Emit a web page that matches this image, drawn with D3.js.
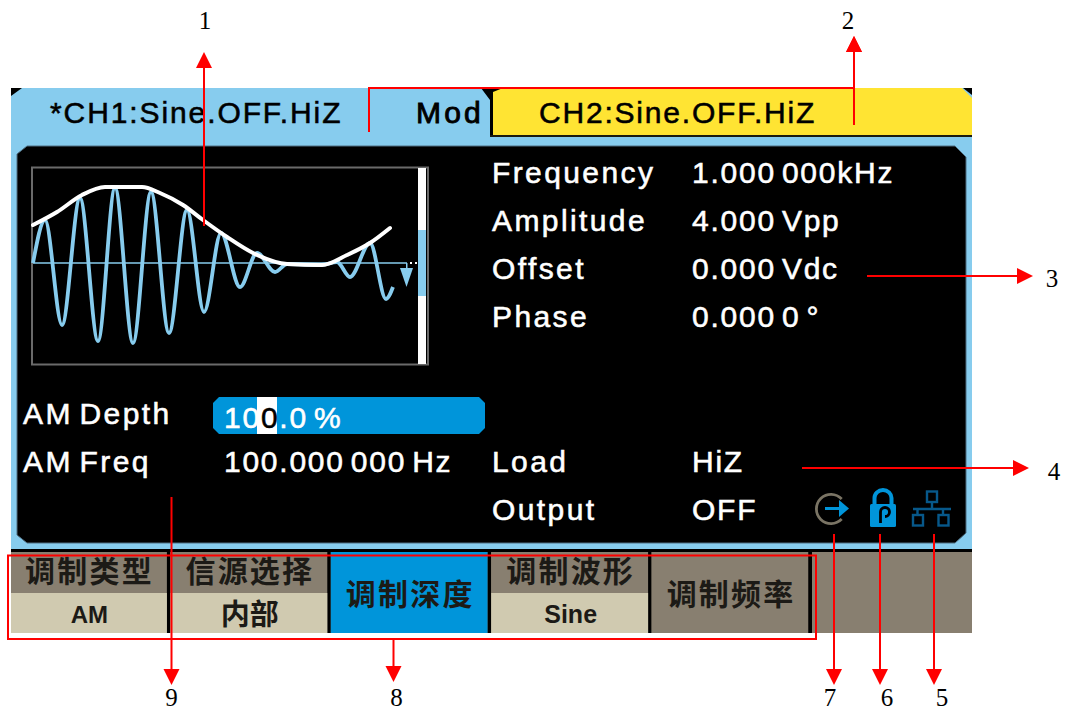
<!DOCTYPE html>
<html>
<head>
<meta charset="utf-8">
<style>
html,body{margin:0;padding:0;background:#fff;}
svg{display:block;}
.ui{font-family:"Liberation Sans",Arial,sans-serif;font-size:30px;letter-spacing:2.4px;word-spacing:-4px;stroke-width:0.55px;}
.num{letter-spacing:1.75px;}
.note{font-family:"Liberation Serif","Times New Roman",serif;font-size:25px;fill:#000;}
.key{font-family:"Noto Sans CJK SC",sans-serif;font-weight:700;fill:#1c1a16;text-anchor:middle;}
</style>
<script src="https://cdn.jsdelivr.net/npm/d3@7"></script>
</head>
<body>
<div id="chart"></div>
<script>
// waveform: time in samples, level above the zero line
var carrierTime  = [0,12,29,47,65,82,100,118,136,154,171,188,207,224,242,254,288,304,317,337,353,360];
var carrierLevel = [0,43,-62,65,-78,75,-80,71,-70,53,-49,30,-24,10,-9,-1,-2,1,-14,20,-36,-24];
var envelopeTime  = [0,24,49,72,109,127,150,170,194,220,254,289,314,337,357];
var envelopeLevel = [38,51,68,76,76,70,58,43,26,10,-1,-2,8,20,35];

var paramNames  = ["Frequency","Amplitude","Offset","Phase"];
var paramValues = ["1.000 000kHz","4.000 Vpp","0.000 Vdc","0.000 0 °"];
var outputNames  = ["Load","Output"];
var outputValues = ["HiZ","OFF"];
var softKeys   = ["调制类型","信源选择","调制深度","调制波形","调制频率"];
var softValues = ["AM","内部","","Sine",""];

var BLUE = "#87CCEE", ACTIVE = "#0095DA", KHAKI = "#D0CAB0", GREY = "#887F70", YELLOW = "#FFE433", RED = "#FF0000";

var svg = d3.select("#chart").append("svg").attr("width",1067).attr("height",711);

function rect(x,y,w,h,c){
    return svg.append("rect").attr("x",x).attr("y",y).attr("width",w).attr("height",h).attr("fill",c);
}
function poly(pts,c){
    return svg.append("polygon").attr("points",pts).attr("fill",c);
}
function label(x,y,txt,c,cls){
    return svg.append("text").attr("class","ui "+(cls||"")).attr("x",x).attr("y",y)
        .attr("fill",c||"#fff").attr("stroke",c||"#fff").text(txt);
}

// device frame
rect(11,88,961,461,BLUE);
poly("11,88 22,88 11,96","#000");
rect(11,549,961,3,"#000");
rect(11,552,961,81,GREY);

// channel tabs
poly("492,88 962,88 972,98 972,135 492,135",YELLOW);
rect(490,92,3,44,"#000");
rect(490,135,482,2,"#1a1a10");
poly("481,88 503,88 493,92 490,100","#000");
poly("963,88 972,88 972,95","#000");
label(50,123,"*CH1:Sine.OFF.HiZ","#000","num").style("letter-spacing","1.9px");
label(416,123,"Mod","#000").style("stroke-width","0.9px").style("letter-spacing","3.2px");
label(539,123,"CH2:Sine.OFF.HiZ","#000","num").style("letter-spacing","1.8px");

// screen
svg.append("polygon")
    .attr("points","27,146 955,146 966,157 966,533 955,543 27,543 17,535 17,154")
    .attr("fill","#000").attr("stroke","#4f6f82").attr("stroke-width",1);

// scope window
svg.append("rect").attr("x",32).attr("y",167.5).attr("width",396).attr("height",197)
    .attr("fill","none").attr("stroke","#6a6a6a").attr("stroke-width",2);
rect(418,168,8,196,"#fff");
rect(418,230,8,66,BLUE);

var xWave = d3.scaleLinear().domain([0,360]).range([33,393]);
var yWave = d3.scaleLinear().domain([-100,100]).range([363,163]);
var waveLine = d3.line().curve(d3.curveMonotoneX)
    .x(function(d){return xWave(d[0]);})
    .y(function(d){return yWave(d[1]);});

svg.append("line").attr("x1",xWave(0)).attr("x2",407).attr("y1",yWave(0)).attr("y2",yWave(0))
    .attr("stroke",BLUE).attr("stroke-width",1.6);
poly("400,268 413,268 406.5,287",BLUE);
rect(406,263,1.5,6,BLUE);
rect(410,262,2,2,"#fff");
rect(415,262,2,2,"#fff");

var carrierData = d3.zip(carrierTime,carrierLevel);
var envelopeData = d3.zip(envelopeTime,envelopeLevel);
svg.append("path").datum(carrierData).attr("d",waveLine)
    .attr("fill","none").attr("stroke",BLUE).attr("stroke-width",3.8);
svg.append("path").datum(envelopeData).attr("d",waveLine)
    .attr("fill","none").attr("stroke","#fff").attr("stroke-width",4).attr("stroke-linecap","round");

// parameter rows
var yParam = d3.scalePoint().domain(paramNames).range([183,327]);
paramNames.forEach(function(d,i){
    label(492,yParam(d),d);
    label(692,yParam(d),paramValues[i],"#fff","num");
});
var yOut = d3.scalePoint().domain(outputNames).range([472,520]);
outputNames.forEach(function(d,i){
    label(492,yOut(d),d);
    label(692,yOut(d),outputValues[i],"#fff","num");
});

// AM settings
label(23,424,"AM Depth");
label(23,472,"AM Freq");
poly("219,397 479,397 485,403 485,428 479,434 219,434 213,428 213,403",ACTIVE);
rect(257,397,20,37,"#fff");
var depth = label(224,428,"10","#fff","num");
depth.append("tspan").attr("fill","#000").attr("stroke","#000").text("0");
depth.append("tspan").attr("fill","#fff").attr("stroke","#fff").text(".0 %");
label(224,472,"100.000 000 Hz","#fff","num");

// soft keys
var xKey = d3.scaleBand().domain(softKeys).range([10,812]);
var keyW = xKey.bandwidth()-3.5;
rect(808,552,4,81,"#000");
softKeys.forEach(function(k,i){
    var x = Math.max(xKey(k),11), w = xKey(k)+keyW-x;
    var active = (i==2), two = softValues[i]!="";
    rect(x,552,w,81,active?ACTIVE:GREY);
    rect(x+w,552,3.5,81,"#000");
    if(two) rect(x,593,w,40,KHAKI);
    var cx = xKey(k)+keyW/2+1;
    svg.append("text").attr("class","key").attr("x",cx).attr("y",two?582:605)
        .style("font-size","30px").style("letter-spacing","2.2px").text(k);
    if(two){
        svg.append("text").attr("class","key").attr("x",cx).attr("y",i==1?625:623)
            .style("font-size",i==1?"29px":(i==3?"25px":"24px"))
            .style("font-family",i==1?null:"'Liberation Sans',sans-serif")
            .text(softValues[i]);
    }
});

// status icons
svg.append("path").attr("d",d3.arc().innerRadius(13.2).outerRadius(16).startAngle(Math.PI/2+0.75).endAngle(Math.PI*2.5-0.75)())
    .attr("transform","translate(831,509)").attr("fill","#7a7464");
svg.append("path").attr("d","M825,508.5h16").attr("stroke",ACTIVE).attr("stroke-width",3);
poly("839,500 849,508.5 839,517",ACTIVE);
svg.append("path").attr("d","M874.5,505v-7a8.5,8 0 0 1 17,0v7").attr("fill","none").attr("stroke",ACTIVE).attr("stroke-width",4);
svg.append("rect").attr("x",870).attr("y",504).attr("width",26).attr("height",23).attr("rx",1.5).attr("fill",ACTIVE);
svg.append("path").attr("d","M880.5,523V512a4.5,4.5 0 1 1 4.5,4.5").attr("fill","none").attr("stroke","#000").attr("stroke-width",2.8);
var net = svg.append("g").attr("fill","none").attr("stroke","#07588A").attr("stroke-width",2.4);
net.append("rect").attr("x",927).attr("y",491.5).attr("width",10).attr("height",10.5);
net.append("rect").attr("x",913).attr("y",515).attr("width",10).attr("height",10.5);
net.append("rect").attr("x",938.5).attr("y",515).attr("width",10).attr("height",10.5);
net.append("path").attr("d","M932,502v7M913,509h38M917.5,509v6M943,509v6");

// callouts, head is 16 long and 16 wide
function callout(path,tip,dir){
    svg.append("path").attr("d",path).attr("fill","none").attr("stroke",RED).attr("stroke-width",2);
    var x = tip[0], y = tip[1];
    if(dir=="up")    poly(x+","+y+" "+(x-8)+","+(y+16)+" "+(x+8)+","+(y+16),RED);
    if(dir=="down")  poly(x+","+y+" "+(x-8)+","+(y-16)+" "+(x+8)+","+(y-16),RED);
    if(dir=="right") poly(x+","+y+" "+(x-16)+","+(y-8)+" "+(x-16)+","+(y+8),RED);
}
callout("M204,226V60",[204,52],"up");
callout("M369,132V88H854",[854,36],"up");
callout("M854,125V44",[854,36],"up");
callout("M867,276H1025",[1033,276],"right");
callout("M802,468H1021",[1029,468],"right");
callout("M934,534V677",[934,685],"down");
callout("M880,534V677",[880,685],"down");
callout("M834,534V677",[834,685],"down");
callout("M171.5,497V677",[171.5,685],"down");
callout("M393.5,639V674",[393.5,682],"down");
svg.append("rect").attr("x",8).attr("y",555.5).attr("width",808).attr("height",83.5)
    .attr("fill","none").attr("stroke",RED).attr("stroke-width",2);

function note(x,y,t){
    svg.append("text").attr("class","note").attr("x",x).attr("y",y).attr("text-anchor","middle").text(t);
}
note(205,29,"1");
note(848,29,"2");
note(1052,287,"3");
note(1054,480,"4");
note(942,705.5,"5");
note(887,705.5,"6");
note(830,705.5,"7");
note(396.5,705.5,"8");
note(171.5,705.5,"9");
</script>
</body>
</html>
